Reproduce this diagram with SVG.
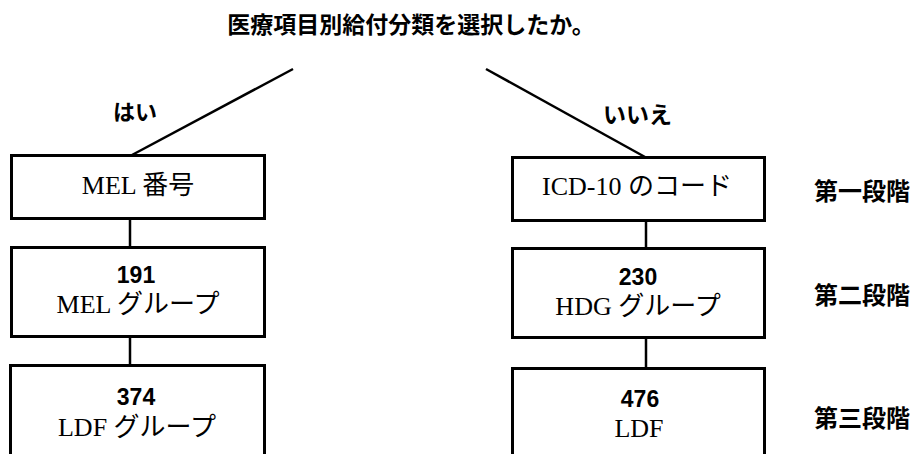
<svg xmlns="http://www.w3.org/2000/svg" width="913" height="454" viewBox="0 0 913 454">
<style>
.box{fill:#fff;stroke:#000;stroke-width:3}
.ln{stroke:#000;stroke-width:2.5;fill:none}
.gb{font-family:"Noto Sans CJK JP",sans-serif;font-weight:700;fill:#000}
.sr{font-family:"Liberation Serif","Noto Sans CJK JP",serif;font-size:26px;fill:#000;text-anchor:middle}
.num{font-family:"Liberation Sans",Arial,sans-serif;font-weight:700;font-size:23px;fill:#000;text-anchor:middle}
</style>
<rect width="913" height="454" fill="#fff"/>
<text class="gb" x="411" y="33" font-size="23" text-anchor="middle">医療項目別給付分類を選択したか。</text>
<g id="connectors">
<line class="ln" x1="293" y1="69" x2="132" y2="155"/>
<line class="ln" x1="486" y1="69" x2="645" y2="157"/>
<line class="ln" x1="130" y1="218" x2="130" y2="247"/>
<line class="ln" x1="130" y1="337" x2="130" y2="365"/>
<line class="ln" x1="646" y1="220" x2="646" y2="248"/>
<line class="ln" x1="646" y1="338" x2="646" y2="368"/>
<text class="gb" x="113" y="120" font-size="22">はい</text>
<text class="gb" x="603" y="123" font-size="23">いいえ</text>
</g>
<g id="mel">
<rect class="box" x="11.5" y="155.5" width="253" height="63"/>
<text class="sr" x="138" y="194">MEL 番号</text>
</g>
<g id="mel-group">
<rect class="box" x="11.5" y="247.5" width="253" height="89"/>
<text class="num" x="136" y="283">191</text>
<text class="sr" x="138" y="313">MEL グループ</text>
</g>
<g id="ldf-group">
<rect class="box" x="10.5" y="365.5" width="254" height="95"/>
<text class="num" x="136" y="405">374</text>
<text class="sr" x="137" y="436">LDF グループ</text>
</g>
<g id="icd">
<rect class="box" x="512.5" y="157.5" width="252" height="63"/>
<text class="sr" x="637" y="195">ICD-10 のコード</text>
</g>
<g id="hdg-group">
<rect class="box" x="512.5" y="248.5" width="252" height="89"/>
<text class="num" x="638" y="285">230</text>
<text class="sr" x="638" y="315">HDG グループ</text>
</g>
<g id="ldf">
<rect class="box" x="512.5" y="368.5" width="252" height="95"/>
<text class="num" x="640" y="407">476</text>
<text class="sr" x="639" y="437">LDF</text>
</g>
<g id="stages">
<text class="gb" x="814" y="200" font-size="24">第一段階</text>
<text class="gb" x="814" y="304" font-size="24">第二段階</text>
<text class="gb" x="814" y="427" font-size="24">第三段階</text>
</g>
</svg>
